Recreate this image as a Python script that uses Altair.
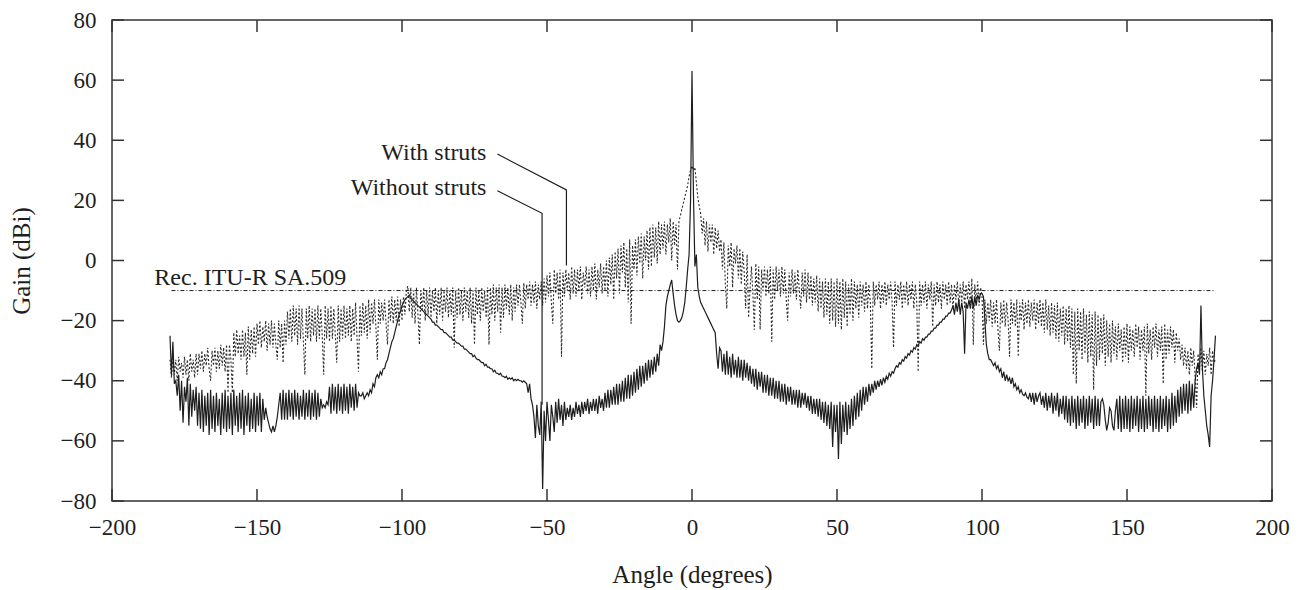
import altair as alt
import pandas as pd

# ---------------- data ----------------
X_START = -180.0
X_STEP = 0.5

# Gain without struts (solid), 0.5 deg steps from -180
without_struts = [
    -25, -38, -27, -41, -40, -45, -38, -50, -40, -54, -42, -47, -39, -55, -41, -52, -43, -50, -42, -55,
    -44, -56, -43, -57, -45, -55, -44, -58, -43, -56, -45, -57, -44, -55, -46, -58, -44, -56, -43, -57,
    -45, -56, -44, -58, -43, -55, -45, -57, -44, -56, -43, -58, -45, -55, -44, -57, -46, -56, -44, -57,
    -45, -55, -44, -57, -46, -53, -49, -52, -54, -56, -57, -55, -57, -55, -52, -48, -44, -53, -43, -53,
    -44, -53, -43, -52, -44, -53, -43, -52, -44, -53, -45, -52, -43, -53, -44, -52, -43, -53, -44, -52,
    -43, -53, -44, -52, -46, -49, -48, -49, -47, -48, -42, -51, -41, -50, -42, -51, -41, -50, -42, -51,
    -41, -50, -42, -51, -41, -49, -42, -50, -41, -49, -44, -45, -45, -44, -46, -45, -44, -45, -43, -44,
    -41, -42, -39, -38, -39, -37, -38, -36, -36, -34, -33, -31, -29, -27, -26, -24, -22, -20, -18, -17,
    -15, -14, -13, -12.5, -12, -11.5, -12.5, -13, -13.5, -14, -14.5, -15, -15.5, -16, -16.5, -17, -17.5, -18, -18.5, -19,
    -19.5, -20.5, -20.5, -21.5, -21.5, -22, -22.5, -23, -23, -24, -24, -24.5, -25, -25.5, -25.5, -26.5, -26.5, -27, -27.5, -27.5,
    -28, -28.5, -28.5, -29.5, -29.5, -30, -30.5, -31, -31, -32, -31.5, -32.5, -33, -33, -33.5, -34, -34, -35, -34.5, -35.5,
    -35.5, -36, -36, -37, -36.5, -37.5, -37.5, -38, -37.5, -38.5, -38.5, -39, -38.5, -39.5, -39, -39.5, -39, -40, -39.5, -40,
    -39.5, -40, -40, -40.5, -40, -40.5, -41, -44, -41, -46, -48, -52, -59, -48, -55, -58, -47, -76, -50, -60,
    -47, -53, -60, -48, -52, -57, -47, -54, -46, -53, -48, -55, -47, -53, -49, -52, -48, -53, -49, -52,
    -47, -51, -48, -52, -47, -51, -47, -50, -46, -51, -47, -50, -46, -50, -46, -51, -45, -49, -46, -50,
    -44, -49, -43, -49, -43, -48, -42, -48, -41, -48, -41, -47, -40, -47, -39, -46, -38, -46, -38, -45,
    -37, -44, -36, -43, -35, -42, -35, -41, -34, -40, -33, -39, -33, -38, -32, -37, -31, -35, -28, -30,
    -27, -22, -15, -12, -10, -8, -6.5, -11, -15, -18, -20, -20.5, -20, -19, -17, -14, -9, -3, 2, 20,
    63, 22, -2, 2, -9, -12, -14, -15, -16, -17, -18, -19, -20, -21, -22, -23, -24, -31, -36, -29,
    -30, -37, -31, -38, -30, -38, -32, -39, -31, -38, -33, -39, -32, -39, -33, -40, -33, -39, -34, -40,
    -35, -41, -36, -42, -36, -43, -37, -42, -37, -44, -38, -44, -38, -45, -39, -45, -39, -46, -40, -46,
    -40, -47, -41, -47, -41, -48, -42, -47, -42, -48, -43, -48, -43, -49, -43, -49, -44, -48, -44, -49,
    -45, -50, -45, -51, -46, -51, -46, -52, -46, -53, -47, -54, -47, -55, -48, -56, -47, -62, -48, -57,
    -48, -66, -47, -61, -48, -57, -47, -58, -48, -56, -46, -55, -45, -53, -44, -52, -43, -50, -42, -48,
    -42, -47, -41, -45, -41, -44, -40, -43, -40, -42, -39.5, -41.5, -39, -40.5, -38.5, -39.5, -37.5, -38.5, -37, -37.5,
    -36, -35, -35.5, -34, -34.5, -33, -33.5, -32, -32.5, -31, -31.5, -30, -30.5, -29, -29.5, -28, -28.5, -27, -27.5, -26,
    -26.5, -25.5, -25.5, -24.5, -24.5, -23.5, -23.5, -22.5, -22.5, -21.5, -21.5, -20.5, -20.5, -19.5, -19.5, -18.5, -18.5, -17.5, -17.5, -16.5,
    -15, -18, -14, -17, -13, -18, -14, -17, -31, -14, -16, -13, -16, -12, -16, -12, -15, -11.5, -13, -11,
    -11, -12, -20, -28, -31, -33, -33, -34, -35, -34, -36, -35, -37, -36, -39, -37, -40, -38, -40, -39,
    -41, -39, -42, -41, -43, -42, -44, -43, -44.5, -45, -44, -45.5, -46, -44, -47, -44, -48, -44, -47, -45,
    -44, -48, -45, -49, -44, -50, -45, -49, -44, -51, -45, -50, -44, -52, -46, -51, -45, -53, -45, -54,
    -46, -55, -45, -54, -46, -56, -45, -55, -46, -54, -45, -56, -46, -55, -45, -54, -46, -56, -45, -55,
    -46, -55, -47, -46, -48, -53, -56.5, -54, -49, -50, -55, -56.5, -50, -46, -56, -45, -57, -46, -56, -45,
    -56, -46, -57, -45, -56, -46, -55, -45, -57, -46, -56, -45, -57, -46, -56, -45, -55, -46, -57, -45,
    -56, -46, -57, -45, -56, -46, -55, -45, -57, -46, -56, -44, -55, -45, -54, -43, -52, -42, -51, -41,
    -50, -41, -51, -40, -50, -41, -49, -40, -36, -34, -38, -15, -36, -45, -50, -55, -58, -62, -45, -40,
    -33, -25,
]

# Gain with struts (dotted), 0.5 deg steps from -180
with_struts = [
    -33, -39, -32, -38, -33, -40, -32, -37, -34, -39, -32, -38, -33, -40, -31, -37, -33, -39, -31, -38,
    -31, -36, -30, -37, -31, -35, -29, -36, -40, -30, -35, -29, -37, -30, -36, -28, -35, -29, -37, -28,
    -44, -28, -33, -44, -24, -32, -23, -31, -25, -33, -23, -32, -24, -38, -22, -33, -23, -31, -22, -32,
    -21, -28, -20, -29, -22, -27, -20, -30, -21, -28, -20, -29, -21, -28, -33, -20, -29, -21, -34, -20,
    -28, -17, -26, -16, -27, -15, -25, -16, -28, -15, -26, -16, -27, -38, -16, -26, -15, -27, -16, -25,
    -16, -27, -15, -26, -16, -25, -38, -15, -26, -16, -27, -15, -26, -16, -25, -34, -15, -27, -16, -26,
    -15, -26, -16, -25, -15, -27, -16, -25, -14, -26, -37, -15, -25, -14, -24, -15, -26, -13, -24, -14,
    -21, -13, -22, -33, -13, -21, -14, -20, -13, -21, -28, -13, -20, -12, -21, -13, -20, -12, -22, -13,
    -20, -12, -18, -10, -8.5, -17, -9, -19, -10, -21, -9, -18, -28, -10, -17, -9, -20, -10, -18, -9,
    -19, -10, -17, -9, -21, -10, -18, -9, -20, -10, -17, -9, -19, -10, -18, -9, -29, -10, -19, -9,
    -18, -10, -20, -9, -17, -10, -19, -9, -21, -10, -28, -9, -18, -10, -20, -9, -17, -10, -19, -9,
    -28, -9, -18, -8, -20, -9, -17, -8, -24, -9, -19, -8, -16, -9, -18, -8, -20, -9, -17, -8,
    -15, -8, -14, -21, -7.5, -16, -8, -13, -7, -15, -8, -14, -7, -16, -8, -13, -7, -15, -6, -14,
    -5, -12, -4, -14, -21, -3, -11, -4, -13, -3, -32, -4, -12, -3, -10, -4, -13, -2, -11, -3,
    -12, -3, -10, -2, -13, -4, -9, -2, -11, -3, -12, -2, -10, -1, -13, -3, -9, -1, -11, -2,
    -10, 0, -12, 1, -8, 2, -13, 3, -6, 4, -11, 5, -4, 6, -9, 4, -14, 7, -21, 5,
    -3, 7, -5, 8, -1, 9, -6, 8, 0, 10, -3, 11, -2, 12, 1, 11, -1, 13, 2, 12,
    4, 13, 2, 12, 6, 14, 0, 13, 5, 12, -3, 13, 15, 17, 19, 21, 23, 25, 28, 30,
    31.5, 30, 31, 26, 21, 18, 15.5, 9, 14, 5, 13, 3, 12, 6, 12, 2, 11, 4, 10, 3,
    7, -3, 6, -8, -16, 5, -2, 6, -9, 4, -1, 5, -6, 4, -8, 3, -4, -16, 2, -19,
    -10, -2, -11, -23, -1, -13, -2, -23, -3, -10, -2, -12, -3, -11, -2, -27, -3, -13, -2, -10,
    -3, -12, -2, -11, -3, -13, -20, -4, -12, -3, -11, -4, -13, -3, -10, -16, -4, -12, -3, -14,
    -4, -13, -5, -15, -6, -14, -5, -17, -6, -16, -7, -19, -6, -18, -7, -21, -6, -20, -7, -22,
    -6, -21, -7, -23, -6, -19, -7, -22, -8, -18, -6, -20, -7, -16, -8, -19, -7, -15, -8, -17,
    -7, -16, -8, -14, -36, -7, -15, -8, -13, -7, -16, -8, -14, -7, -15, -8, -13, -7, -14, -29,
    -7, -15, -8, -13, -7, -16, -8, -14, -7, -15, -8, -13, -7, -16, -8, -14, -37, -7, -15, -8,
    -14, -7, -16, -8, -13, -7, -22, -8, -15, -7, -14, -8, -16, -7, -13, -8, -15, -7, -14, -8,
    -16, -8, -13, -7, -15, -8, -14, -7, -16, -8, -13, -7, -15, -6, -28, -8, -14, -7, -15, -9,
    -12, -28, -13, -21, -14, -20, -13, -22, -14, -21, -13, -23, -30, -14, -21, -13, -22, -14, -20, -32,
    -13, -21, -14, -22, -13, -32, -14, -20, -13, -23, -14, -21, -13, -22, -14, -20, -13, -23, -14, -21,
    -13, -22, -14, -24, -13, -23, -15, -25, -14, -24, -15, -26, -14, -27, -16, -25, -15, -28, -16, -27,
    -15, -29, -16, -38, -17, -41, -16, -30, -17, -33, -16, -31, -18, -34, -17, -32, -18, -43, -17, -35,
    -18, -33, -19, -31, -18, -35, -20, -32, -21, -34, -20, -31, -22, -33, -21, -30, -23, -34, -22, -32,
    -21, -34, -22, -30, -23, -32, -21, -29, -22, -33, -23, -30, -22, -45, -21, -31, -23, -33, -22, -29,
    -21, -32, -23, -30, -22, -41, -21, -33, -23, -31, -22, -29, -23, -34, -24, -30, -26, -33, -28, -35,
    -29, -36, -30, -38, -29, -35, -30, -39, -49, -31, -36, -29, -37, -30, -38, -31, -35, -29, -38, -30,
    -34, -33,
]

x_ticks = [-200, -150, -100, -50, 0, 50, 100, 150, 200]
y_ticks = [-80, -60, -40, -20, 0, 20, 40, 60, 80]

sa509_x = [-179.5, 180.0]
sa509_y = [-10, -10]
sa509_label = "Rec. ITU-R SA.509"
sa509_label_pos = (-185.4, -8.2)

ann_labels = ["With struts", "Without struts"]
ann_text_x = [-70.9, -70.9]
ann_text_y = [33.4, 21.8]
lead_with_x = [-67.1, -43.3, -43.3]
lead_with_y = [35.4, 23.5, -1.7]
lead_without_x = [-67.1, -51.7, -51.7]
lead_without_y = [23.2, 15.7, -48.0]

# ---------------- build tables ----------------
def series_df(vals):
    return pd.DataFrame({"angle": [X_START + X_STEP * i for i in range(len(vals))], "gain": vals})

df_wo = series_df(without_struts)
df_w = series_df(with_struts)
df_sa = pd.DataFrame({"angle": sa509_x, "gain": sa509_y})
df_xt = pd.DataFrame({"v": x_ticks})
df_yt = pd.DataFrame({"v": y_ticks})
df_lead = pd.DataFrame({
    "angle": lead_with_x + lead_without_x,
    "gain": lead_with_y + lead_without_y,
    "g": ["w"] * 3 + ["wo"] * 3,
    "o": [0, 1, 2] * 2,
})
df_ann = pd.DataFrame({"angle": ann_text_x, "gain": ann_text_y, "t": ann_labels})
df_sal = pd.DataFrame({"angle": [sa509_label_pos[0]], "gain": [sa509_label_pos[1]], "t": [sa509_label]})

W, H = 1160, 481
FONT = "Liberation Serif"
INK = "#1e1e1e"

xs = alt.Scale(domain=[-200, 200], nice=False, zero=False)
ys = alt.Scale(domain=[-80, 80], nice=False, zero=False)

xax = alt.Axis(values=x_ticks, ticks=False, domain=False, grid=False, labelFont=FONT,
               labelFontSize=23, labelColor=INK, labelPadding=15, title="Angle (degrees)",
               titleFont=FONT, titleFontSize=25, titleFontWeight="normal", titleColor=INK,
               titlePadding=23, labelFlush=False)
yax = alt.Axis(values=y_ticks, ticks=False, domain=False, grid=False, labelFont=FONT,
               labelFontSize=23, labelColor=INK, labelPadding=16, title="Gain (dBi)",
               titleFont=FONT, titleFontSize=25, titleFontWeight="normal", titleColor=INK,
               titlePadding=26, labelFlush=False)

dotted = alt.Chart(df_w).mark_line(color="#2a2a2a", strokeWidth=1.1, strokeDash=[2, 2]).encode(
    x=alt.X("angle:Q", scale=xs, axis=xax),
    y=alt.Y("gain:Q", scale=ys, axis=yax),
)
solid = alt.Chart(df_wo).mark_line(color=INK, strokeWidth=1.2).encode(
    x=alt.X("angle:Q", scale=xs), y=alt.Y("gain:Q", scale=ys))

sa = alt.Chart(df_sa).mark_line(color=INK, strokeWidth=1, strokeDash=[4, 2, 1, 2]).encode(
    x=alt.X("angle:Q", scale=xs), y=alt.Y("gain:Q", scale=ys))

TL = 12
tick_style = dict(color="#333", strokeWidth=1.5)
xt_bot = alt.Chart(df_xt).mark_rule(**tick_style).encode(
    x=alt.X("v:Q", scale=xs), y=alt.value(H), y2=alt.value(H - TL))
xt_top = alt.Chart(df_xt).mark_rule(**tick_style).encode(
    x=alt.X("v:Q", scale=xs), y=alt.value(0), y2=alt.value(TL))
yt_left = alt.Chart(df_yt).mark_rule(**tick_style).encode(
    y=alt.Y("v:Q", scale=ys), x=alt.value(0), x2=alt.value(TL))
yt_right = alt.Chart(df_yt).mark_rule(**tick_style).encode(
    y=alt.Y("v:Q", scale=ys), x=alt.value(W), x2=alt.value(W - TL))

lead = alt.Chart(df_lead).mark_line(color=INK, strokeWidth=1.2).encode(
    x=alt.X("angle:Q", scale=xs), y=alt.Y("gain:Q", scale=ys), detail="g:N", order="o:Q")

ann = alt.Chart(df_ann).mark_text(font=FONT, fontSize=24, align="right", baseline="alphabetic",
                                  color=INK).encode(
    x=alt.X("angle:Q", scale=xs), y=alt.Y("gain:Q", scale=ys), text="t:N")
sal = alt.Chart(df_sal).mark_text(font=FONT, fontSize=24, align="left", baseline="alphabetic",
                                  color=INK).encode(
    x=alt.X("angle:Q", scale=xs), y=alt.Y("gain:Q", scale=ys), text="t:N")

chart = alt.layer(dotted, solid, sa, xt_bot, xt_top, yt_left, yt_right, lead, ann, sal).properties(
    width=W, height=H,
    autosize=alt.AutoSizeParams(type="none"),
    padding={"left": 112, "top": 20, "right": 26, "bottom": 89},
    background="white",
).configure_view(stroke="#333", strokeWidth=1.5)

chart.save("out.html", embed_options={"renderer": "svg", "actions": False})
